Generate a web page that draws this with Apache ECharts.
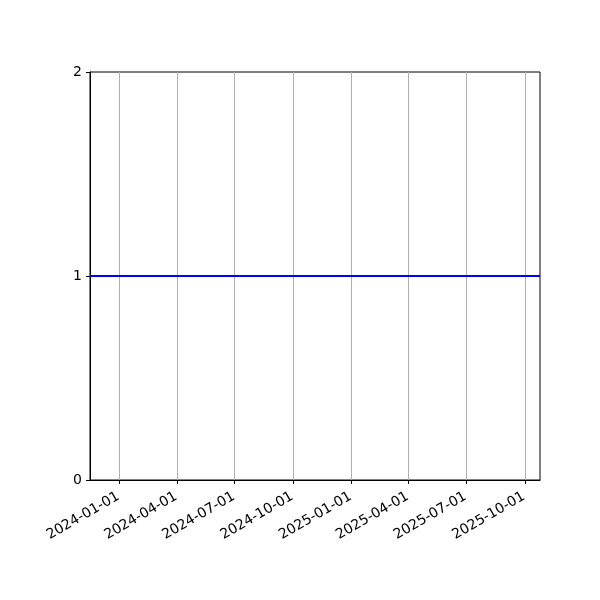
<!DOCTYPE html>
<html>
<head>
<meta charset="utf-8">
<script src="https://cdn.jsdelivr.net/npm/echarts@6/dist/echarts.min.js"></script>
<style>
html,body{margin:0;padding:0;background:#fff;}
#main{width:600px;height:600px;}
</style>
</head>
<body>
<div id="main"></div>
<script>
// Data
var lineDates = ['2023-11-16', '2025-10-25'];
var lineValues = [1, 1];
var xTickLabels = ['2024-01-01','2024-04-01','2024-07-01','2024-10-01','2025-01-01','2025-04-01','2025-07-01','2025-10-01'];
var yTicks = [0, 1, 2];
var xMin = '2023-11-16';
var xMax = '2025-10-25';

function ts(s){ return new Date(s + 'T00:00:00Z').getTime(); }
function fmt(v){
  var d = new Date(v);
  var m = d.getUTCMonth()+1, dd = d.getUTCDate();
  return d.getUTCFullYear() + '-' + (m<10?'0':'') + m + '-' + (dd<10?'0':'') + dd;
}
var tickVals = xTickLabels.map(ts);
var seriesData = lineDates.map(function(d,i){ return [ts(d), lineValues[i]]; });

var chart = echarts.init(document.getElementById('main'), null, {renderer:'canvas'});
var font = 'DejaVu Sans';
chart.setOption({
  animation: false,
  backgroundColor: '#fff',
  grid: {left: 90, right: 60, top: 72, bottom: 120, show: true, borderColor: '#000', borderWidth: 1, backgroundColor: 'transparent'},
  xAxis: {
    type: 'value',
    min: ts(xMin),
    max: ts(xMax),
    axisLine: {show: true, onZero: false, lineStyle: {color: '#000', width: 1}},
    axisTick: {show: true, customValues: tickVals, length: 4, inside: false, lineStyle: {color: '#000', width: 1}},
    axisLabel: {
      customValues: tickVals,
      rotate: 30,
      formatter: function(v){ return fmt(v); },
      color: '#000', fontFamily: font, fontSize: 14, margin: 15,
      padding: [0, 1, 0, 0]
    },
    splitLine: {show: true, lineStyle: {color: '#b0b0b0', width: 1}}
  },
  yAxis: {
    type: 'value',
    min: yTicks[0],
    max: yTicks[yTicks.length-1],
    interval: 1,
    axisLine: {show: true, lineStyle: {color: '#000', width: 1}},
    axisTick: {show: true, length: 4, inside: false, lineStyle: {color: '#000', width: 1}},
    axisLabel: {color: '#000', fontFamily: font, fontSize: 14, margin: 8},
    splitLine: {show: false}
  },
  series: [{
    type: 'line',
    data: seriesData,
    showSymbol: false,
    symbol: 'none',
    lineStyle: {color: '#0000ff', width: 2},
    clip: true
  }]
});
</script>
</body>
</html>
